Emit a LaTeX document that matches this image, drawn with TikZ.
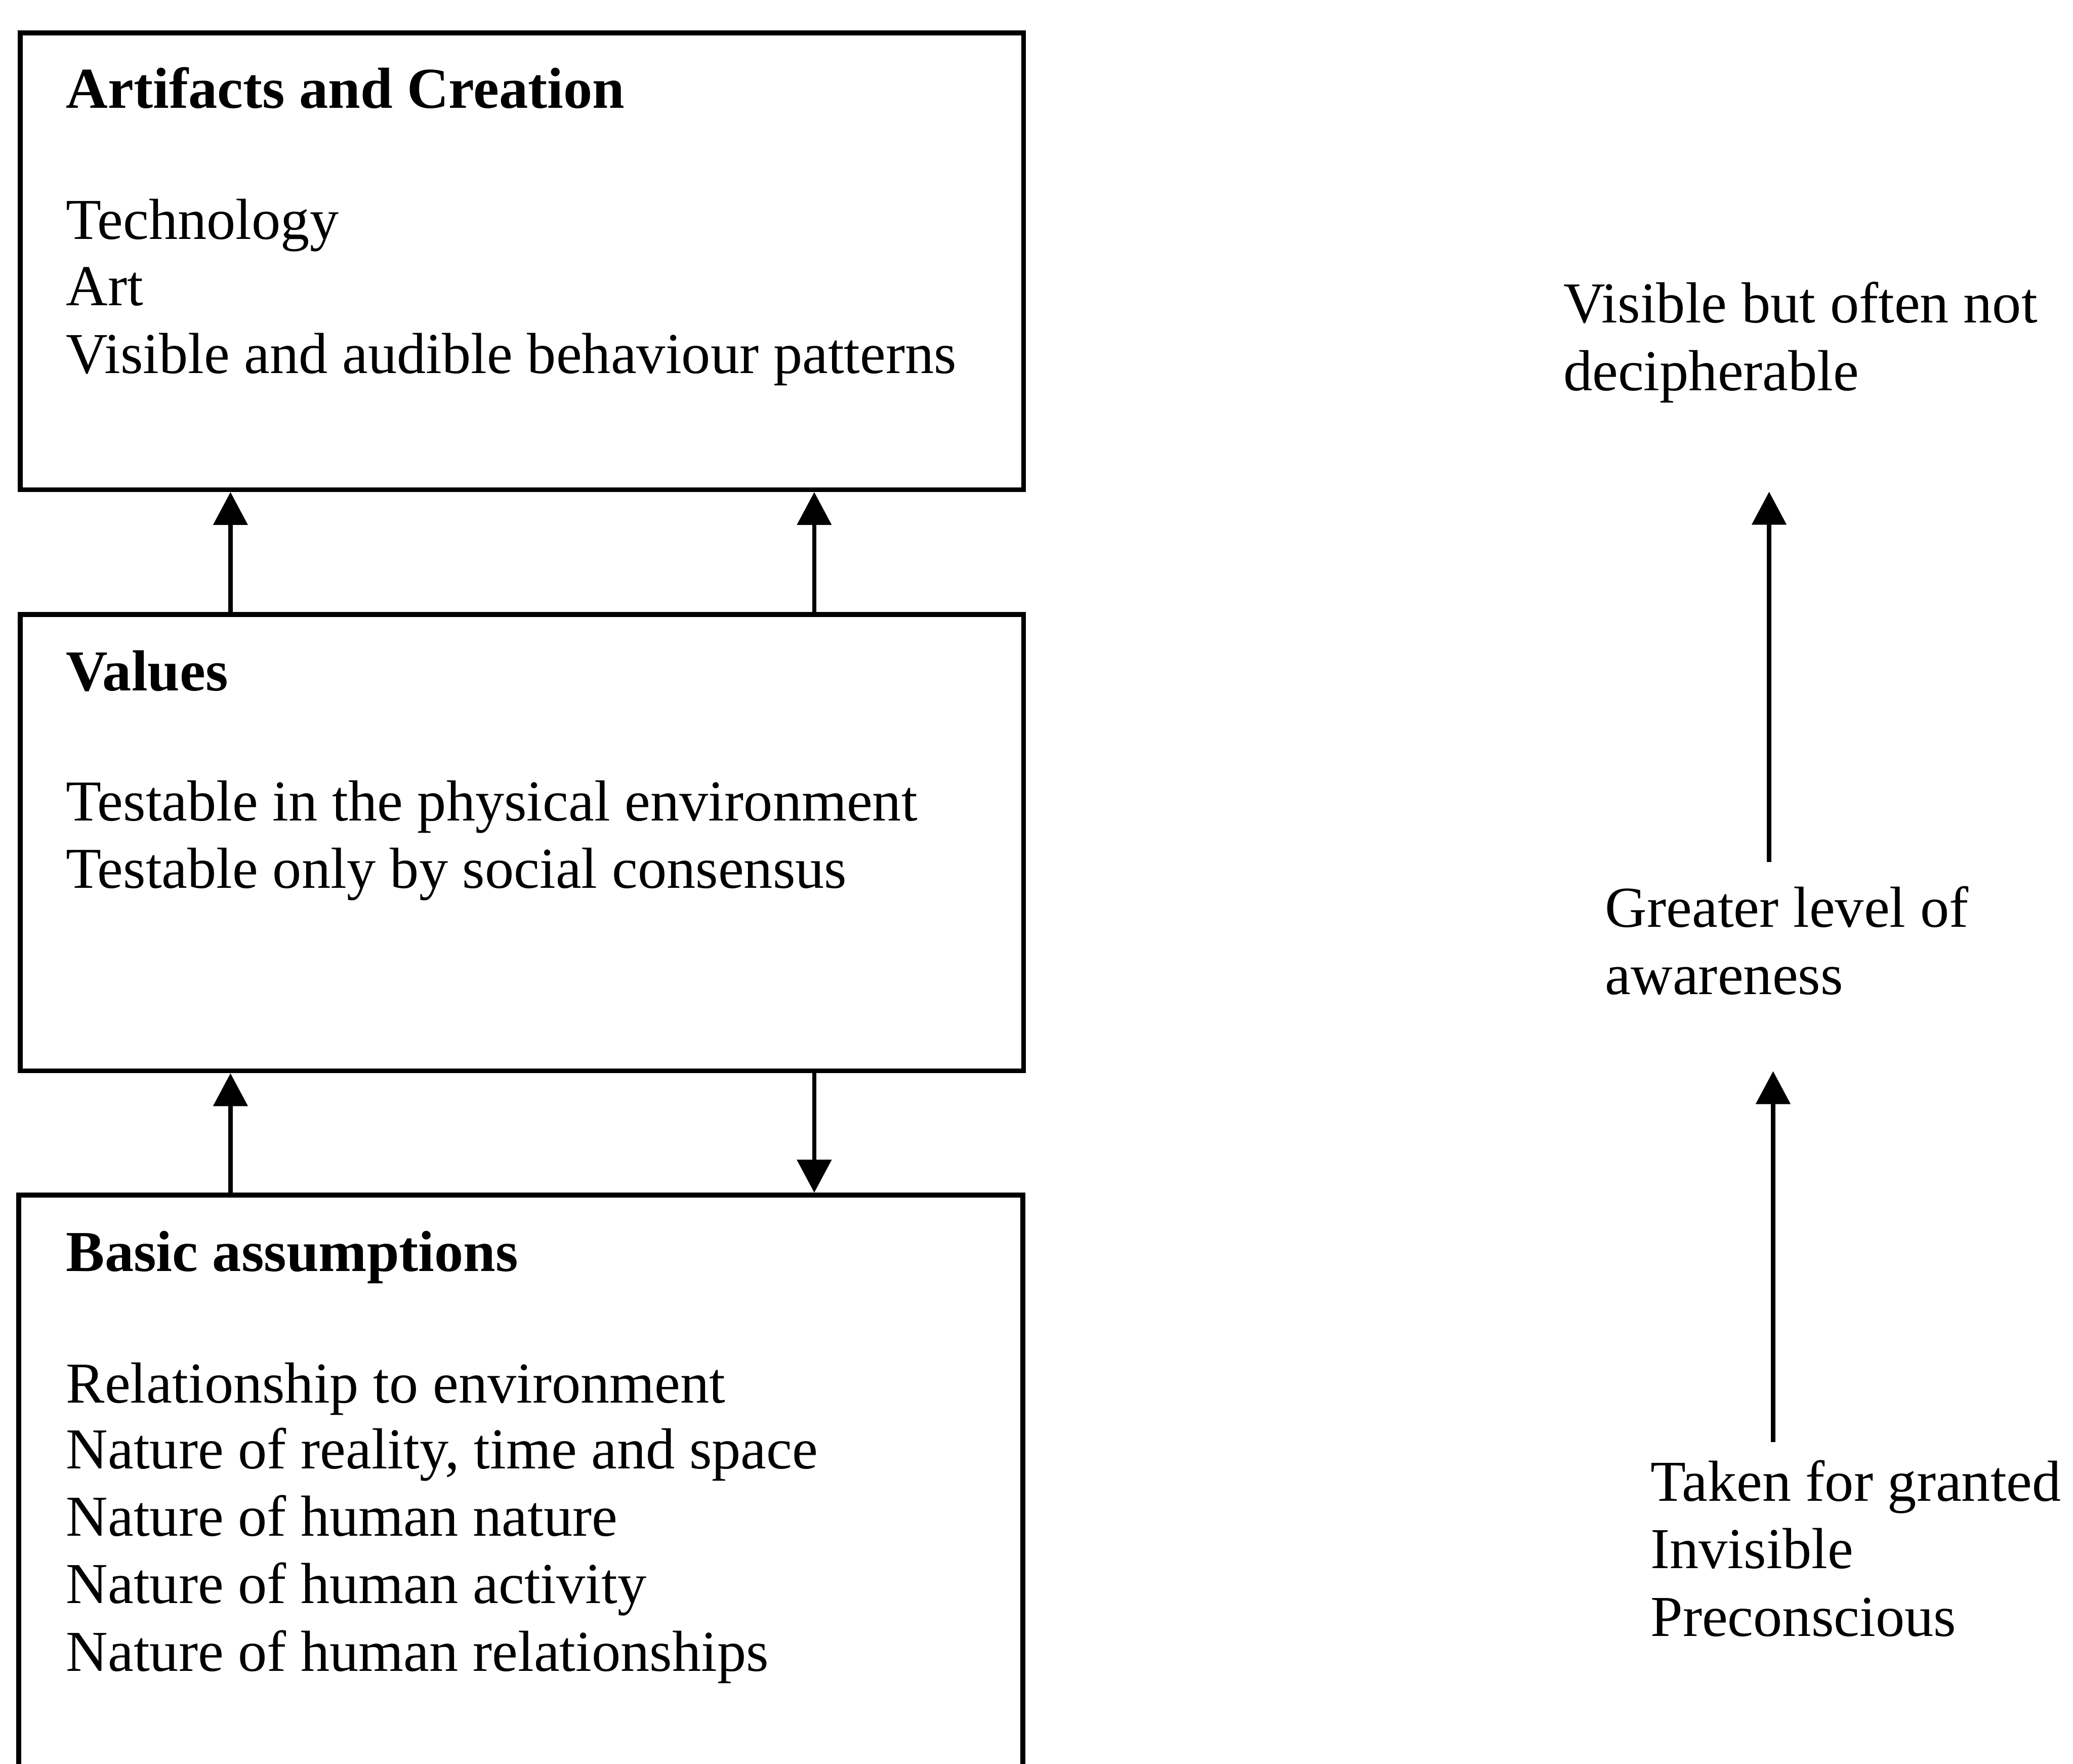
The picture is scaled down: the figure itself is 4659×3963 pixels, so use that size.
\documentclass[tikz,border=0pt]{standalone}
\usepackage{fontspec}
\setmainfont{Liberation Serif}
\usetikzlibrary{arrows.meta}
\begin{document}
\begin{tikzpicture}[x=0.01cm,y=-0.01cm,
  layer/.style={draw=black, line width=3.1pt, minimum width=22.54cm, inner sep=0pt},
  txt/.style={anchor=base west, inner sep=0pt, font=\fontsize{37}{42.7}\selectfont},
  hd/.style={txt, font=\fontsize{37}{42.7}\selectfont\bfseries},
  flow/.style={line width=2.8pt, -{Triangle[length=7.4mm,width=7.6mm]}}]
  % page frame
  \fill[white] (0,0) rectangle (4659,3963);
  \clip (0,0) rectangle (4659,3963);

  % the three layers
  \node[layer, minimum height=10.26cm] (art) at (1173,587) {};
  \node[layer, minimum height=10.25cm] (val) at (1173,1893.5) {};
  \node[layer, minimum width=22.55cm, minimum height=14.14cm] (bas) at (1170.5,3393) {};

  % layer contents
  \node[hd]  (a0) at (148,243) {Artifacts and Creation};
  \node[txt] (a1) at (148,538) {Technology};
  \node[txt] (a2) at (148,687) {Art};
  \node[txt] (a3) at (148,839) {Visible and audible behaviour patterns};

  \node[hd]  (v0) at (148,1552) {Values};
  \node[txt] (v1) at (148,1844) {Testable in the physical environment};
  \node[txt] (v2) at (148,1996) {Testable only by social consensus};

  \node[hd]  (b0) at (148,2857) {Basic assumptions};
  \node[txt] (b1) at (148,3152) {Relationship to environment};
  \node[txt] (b2) at (148,3300) {Nature of reality, time and space};
  \node[txt] (b3) at (148,3452) {Nature of human nature};
  \node[txt] (b4) at (148,3603) {Nature of human activity};
  \node[txt] (b5) at (148,3755) {Nature of human relationships};

  % links between layers
  \coordinate (xl) at (518,0);
  \coordinate (xr) at (1830,0);
  \draw[flow] (val.north -| xl) -- (art.south -| xl);
  \draw[flow] (val.north -| xr) -- (art.south -| xr);
  \draw[flow] (bas.north -| xl) -- (val.south -| xl);
  \draw[flow] (val.south -| xr) -- (bas.north -| xr);

  % awareness scale
  \node[txt] (r1) at (3513,725) {Visible but often not};
  \node[txt] (r2) at (3513,878) {decipherable};
  \node[txt] (g1) at (3607,2083) {Greater level of};
  \node[txt] (g2) at (3607,2235) {awareness};
  \node[txt] (k1) at (3709,3373) {Taken for granted};
  \node[txt] (k2) at (3709,3524) {Invisible};
  \node[txt] (k3) at (3709,3677) {Preconscious};

  \coordinate (u0) at (3976,1937);
  \coordinate (u1) at (3976,1105);
  \coordinate (l0) at (3985,3241);
  \coordinate (l1) at (3985,2407);
  \draw[flow] (u0) -- (u1);
  \draw[flow] (l0) -- (l1);
\end{tikzpicture}
\end{document}
